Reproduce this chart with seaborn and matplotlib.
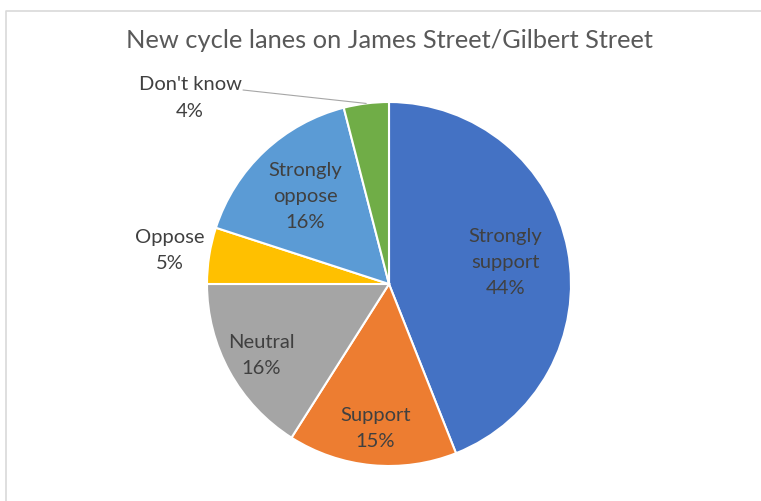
import matplotlib
matplotlib.use("Agg")
import matplotlib.pyplot as plt
import numpy as np
import seaborn as sns

# Survey responses on the new cycle lanes
categories = ["Strongly support", "Support", "Neutral", "Oppose",
              "Strongly oppose", "Don't know"]
label_text = ["Strongly\nsupport", "Support", "Neutral", "Oppose",
              "Strongly\noppose", "Don't know"]
percentages = [44, 15, 16, 5, 16, 4]
colors = ["#4472C4", "#ED7D31", "#A5A5A5", "#FFC000", "#5B9BD5", "#70AD47"]
title = "New cycle lanes on James Street/Gilbert Street"

sns.set_theme(style="white")
plt.rcParams["font.family"] = ["Lato", "DejaVu Sans"]

W, H = 761, 502
fig = plt.figure(figsize=(W / 100, H / 100), dpi=100)
ax = fig.add_axes([0, 0, 1, 1])

# pie geometry in pixel units (y measured upwards)
cx, cy, R = 389, H - 285, 182
wedges, _ = ax.pie(percentages, colors=colors, startangle=90, counterclock=False,
                   center=(cx, cy), radius=R,
                   wedgeprops=dict(edgecolor="white", linewidth=1.5))
ax.set_xlim(0, W)
ax.set_ylim(0, H)
ax.set_aspect("equal")
ax.axis("off")

label_fs = 14.5
line_sp = 1.65
# label distances as fraction of the radius along each slice's mid-angle
label_dist = [0.65, 0.79, 0.80, 1.22, 0.67, None]
cum = np.cumsum([0] + percentages)
for i, (lab, p) in enumerate(zip(label_text, percentages)):
    mid = np.deg2rad((cum[i] + p / 2) / 100 * 360)
    txt = f"{lab}\n{p}%"
    if label_dist[i] is not None:
        d = label_dist[i] * R
        x, y = cx + d * np.sin(mid), cy + d * np.cos(mid)
        ax.text(x, y, txt, ha="center", va="center", fontsize=label_fs,
                color="#404040", linespacing=line_sp)
    else:
        # outside label with a leader line to the slice edge
        tx, ty = 190, H - 98
        ax.text(tx, ty, txt, ha="center", va="center", fontsize=label_fs,
                color="#404040", linespacing=line_sp)
        ex, ey = cx + R * np.sin(mid), cy + R * np.cos(mid)
        ax.plot([243, ex], [H - 91, ey], color="#A6A6A6", linewidth=0.8)

ax.text(389, H - 40, title, ha="center", va="center", fontsize=18.3,
        color="#595959")

# chart-area border
ax.plot([5.5, 5.5, W], [0, H - 11.5, H - 11.5], color="#D9D9D9", linewidth=1.2)

fig.savefig("out.png", dpi=100)
